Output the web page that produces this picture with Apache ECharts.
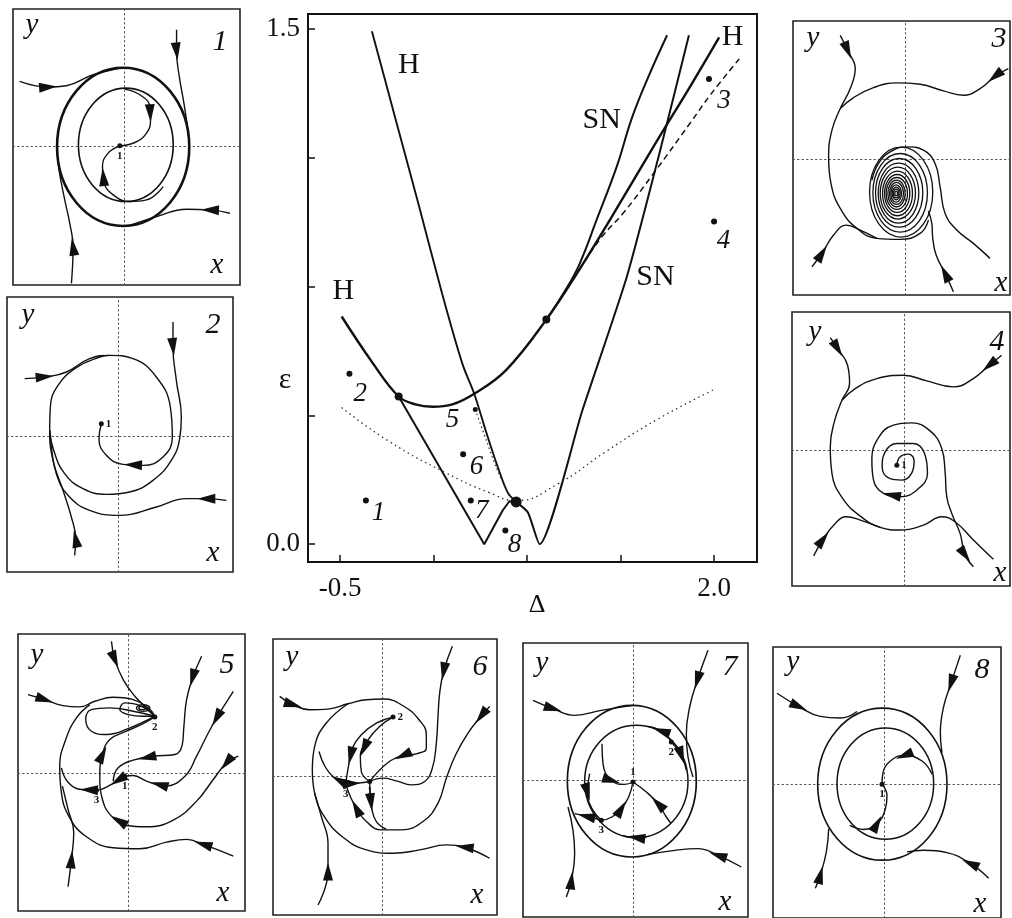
<!DOCTYPE html>
<html>
<head>
<meta charset="utf-8">
<script src="https://cdn.jsdelivr.net/npm/echarts@6/dist/echarts.min.js"></script>
<style>
html,body{margin:0;padding:0;background:#fff}
#chart{width:1012px;height:918px}
</style>
</head>
<body>
<div id="chart"></div>
<script>
// ---------- Bifurcation diagram in the (Δ, ε) plane ----------
const xTicks = [-0.5, 0.125, 0.75, 1.375, 2.0];
const xTickLabels = [-0.5, 2.0];
const yTicks = [0, 0.375, 0.75, 1.125, 1.5];
const yTickLabels = [0, 1.5];

// Hopf line (steep branch)
const hopfSteep = [[-0.287,1.494],[-0.130,1.240],[0.027,0.986],[0.184,0.727],[0.318,0.525],[0.397,0.438],[0.475,0.329],[0.554,0.225],[0.621,0.150],[0.677,0.123]];
// Hopf curve (parabolic branch)
const hopfParabola = [[-0.489,0.663],[-0.287,0.531],[-0.108,0.430],[0.004,0.407],[0.117,0.400],[0.251,0.407],[0.397,0.438],[0.610,0.507],[0.879,0.654],[1.103,0.802],[1.305,0.945],[1.619,1.175],[1.843,1.335],[2.034,1.476]];
// saddle-node lines
const snLeftV = [[-0.108,0.430],[0.464,0.0],[0.587,0.098],[0.632,0.125],[0.677,0.123]];
const snRightV = [[0.677,0.123],[0.756,0.092],[0.834,0.0],[1.12,0.39],[1.417,0.779],[1.63,1.13],[1.832,1.482]];
const snUpper = [[0.879,0.654],[1.00,0.735],[1.10,0.815],[1.22,0.95],[1.35,1.10],[1.45,1.24],[1.56,1.36],[1.686,1.482]];
// dashed and dotted branches
const dashedBranch = [[0.95,0.70],[1.10,0.80],[1.25,0.895],[1.395,0.965],[1.596,1.08],[1.843,1.228],[1.978,1.31],[2.168,1.413]];
const dottedParabola = [[-0.489,0.398],[-0.175,0.300],[0.206,0.208],[0.498,0.150],[0.677,0.127],[0.946,0.173],[1.282,0.271],[1.619,0.363],[2.0,0.450]];
const dottedShort = [[0.404,0.392],[0.475,0.306],[0.543,0.225],[0.632,0.144],[0.677,0.127]];
// codimension-two points
const specialPoints = [[-0.108,0.430],[0.879,0.654]];
const cuspPoint = [[0.677,0.123]];
const smallPoint = [[0.404,0.392]];
// parameter points of the phase portraits
const regionPoints = [[-0.327,0.127],[-0.437,0.496],[1.966,1.355],[2.0,0.940],[0.323,0.262],[0.374,0.127],[0.605,0.040]];
const regionLabels = [[-0.242,0.092,'1'],[-0.365,0.438,'2'],[2.067,1.292,'3'],[2.063,0.882,'4'],[0.251,0.363,'5'],[0.413,0.225,'6'],[0.448,0.096,'7'],[0.666,-0.003,'8']];
const curveNames = [[-0.040,1.396,'H'],[-0.478,0.738,'H'],[2.123,1.476,'H'],[1.249,1.234,'SN'],[1.608,0.779,'SN']];

// ---------- Phase portraits (x, y) ----------
// portrait 1
const panel1Cycles = [[-0.02,-0.01,1.98,2.37],[0.06,0.05,1.42,1.70]];
const panel1Curves = [
  [[0.03,1.72],[0.48,1.55],[0.78,1.20],[0.80,0.80],[0.68,0.40],[0.33,0.12],[-0.12,0.02]],
  [[1.18,-1.20],[0.68,-1.60],[0.18,-1.65],[-0.32,-1.45],[-0.60,-1.05],[-0.64,-0.60],[-0.47,-0.20],[-0.12,0.02]],
  [[-3.12,1.95],[-2.27,1.78],[-1.72,1.82],[-0.92,2.15],[-0.04,2.36]],
  [[1.58,3.50],[1.58,2.85],[1.66,2.10],[1.80,1.30],[1.93,0.40],[1.96,-0.05]],
  [[-1.57,-4.10],[-1.52,-3.00],[-1.62,-2.30],[-1.77,-1.60],[-1.94,-0.70],[-2.00,0.00]],
  [[3.18,-2.00],[2.58,-1.90],[1.88,-1.88],[0.98,-2.10],[0.08,-2.40]]
];
const panel1Arrows = [[0,2.5],[1,4.3],[2,1],[3,1],[4,1],[5,1]];
const panel1Points = [[-0.12,0.02,'1']];

// portrait 2
const panel2Curves = [
  [[-2.82,1.72],[-2.07,1.79],[-1.57,1.92],[-0.87,2.32],[-0.27,2.42],[0.43,2.32],[1.13,1.77],[1.55,0.87],[1.61,-0.03],[1.33,-0.63],[0.73,-0.88],[0.13,-0.85],[-0.37,-0.58],[-0.59,-0.08],[-0.52,0.37]],
  [[1.63,3.42],[1.63,2.67],[1.73,1.67],[1.88,0.57],[1.83,-0.08],[1.58,-0.73],[1.03,-1.33],[0.33,-1.68],[-0.37,-1.75],[-1.07,-1.58],[-1.62,-1.13],[-1.95,-0.43],[-2.07,0.17]],
  [[-1.32,-3.58],[-1.29,-3.08],[-1.42,-2.43],[-1.67,-1.63],[-1.97,-0.73],[-2.07,0.17],[-2.05,0.87],[-1.82,1.52],[-1.27,2.05],[-0.57,2.37],[-0.27,2.42]],
  [[3.23,-1.93],[2.63,-1.88],[2.03,-1.88],[1.13,-2.13],[0.03,-2.38],[-0.87,-2.23],[-1.52,-1.78],[-1.87,-1.13],[-2.02,-0.33],[-2.07,0.17]]
];
const panel2Arrows = [[0,0.8],[0,10.5],[1,1],[2,1],[3,1]];
const panel2Points = [[-0.52,0.37,'1']];

// portrait 3
const panel3Cycles = [[-0.12,-0.98,0.95,1.35],[-0.15,-1.00,0.82,1.18],[-0.18,-1.00,0.71,1.03],[-0.20,-1.01,0.61,0.90],[-0.22,-1.01,0.53,0.78],[-0.23,-1.02,0.45,0.67],[-0.24,-1.02,0.38,0.57],[-0.25,-1.02,0.32,0.48],[-0.26,-1.02,0.26,0.40],[-0.26,-1.02,0.21,0.33],[-0.27,-1.02,0.16,0.26],[-0.27,-1.02,0.12,0.19],[-0.27,-1.02,0.08,0.13],[-0.27,-1.02,0.04,0.07]];
const panel3Curves = [
  [[-1.95,3.73],[-1.73,3.28],[-1.50,2.73],[-1.65,2.13],[-1.95,1.53],[-2.20,0.88],[-2.30,0.08],[-2.23,-0.72],[-1.95,-1.47],[-1.45,-2.07],[-0.85,-2.37],[-0.15,-2.40],[0.45,-2.22],[0.70,-1.82]],
  [[3.10,2.73],[2.70,2.50],[2.25,2.13],[1.75,1.93],[1.15,2.06],[0.45,2.26],[-0.25,2.30],[-0.95,2.16],[-1.55,1.86],[-1.95,1.53]],
  [[-2.80,-3.22],[-2.50,-2.82],[-2.15,-2.27],[-1.77,-1.97],[-1.35,-2.12],[-0.85,-2.37]],
  [[1.45,-3.97],[1.20,-3.42],[0.93,-2.87],[0.83,-2.37],[0.80,-1.92],[0.70,-1.55]],
  [[2.55,-2.97],[2.05,-2.52],[1.55,-2.12],[1.20,-1.62],[1.05,-0.82],[0.90,-0.12],[0.55,0.28],[0.05,0.38],[-0.45,0.23],[-0.80,-0.12],[-1.00,-0.62]]
];
const panel3Arrows = [[0,1],[1,1],[2,1],[3,1]];
const panel3Points = [];

// portrait 4
const panel4Curves = [
  [[-0.22,-0.45],[-0.12,-0.20],[0.13,-0.12],[0.30,-0.32],[0.23,-0.68],[-0.07,-0.90],[-0.44,-0.85],[-0.66,-0.50],[-0.57,-0.05],[-0.22,0.20],[0.28,0.20],[0.63,-0.15],[0.70,-0.70],[0.40,-1.18],[-0.12,-1.40],[-0.62,-1.30],[-0.92,-0.90],[-0.97,-0.30],[-0.77,0.38],[-0.32,0.75],[0.23,0.82],[0.78,0.58],[1.13,0.05],[1.23,-0.65],[1.28,-1.40],[1.43,-1.90],[1.68,-2.50],[1.83,-3.15],[2.08,-3.50]],
  [[-2.22,3.38],[-2.00,3.05],[-1.70,2.55],[-1.64,2.00],[-1.87,1.50],[-2.10,0.85],[-2.22,0.10],[-2.17,-0.70],[-1.87,-1.42],[-1.32,-1.98],[-0.72,-2.32],[-0.12,-2.40],[0.58,-2.25],[1.13,-2.00],[1.53,-2.15],[2.08,-2.70],[2.68,-3.28]],
  [[2.93,2.85],[2.56,2.55],[2.08,2.15],[1.48,1.90],[0.68,2.08],[-0.02,2.25],[-0.82,2.15],[-1.47,1.85],[-1.87,1.50]],
  [[-2.72,-3.18],[-2.44,-2.68],[-2.07,-2.20],[-1.74,-2.00],[-1.32,-2.10],[-0.72,-2.32]]
];
const panel4Arrows = [[0,27],[0,14.5],[1,1],[2,1],[3,1]];
const panel4Points = [[-0.22,-0.45,'1']];

// portrait 5
const panel5Cycles = [[0.45,1.95,0.20,0.10],[0.42,1.95,0.10,0.05]];
const panel5Curves = [
  [[-0.50,3.95],[-0.40,3.40],[-0.15,2.80],[0.20,2.30],[0.55,1.95],[0.80,1.70]],
  [[-3.00,2.35],[-2.50,2.20],[-1.95,2.02],[-1.45,1.98],[-1.00,2.15],[-0.45,2.27],[0.15,2.20],[0.60,1.95],[0.80,1.70]],
  [[0.80,1.70],[0.35,2.02],[-0.10,2.10],[-0.25,1.90],[0.00,1.75],[0.45,1.70],[0.80,1.70]],
  [[0.80,1.70],[0.15,1.85],[-0.55,1.95],[-1.10,1.90],[-1.27,1.60],[-1.10,1.25],[-0.65,1.15],[0.05,1.35],[0.80,1.70]],
  [[3.15,-2.50],[2.25,-2.15],[1.75,-2.00],[1.15,-2.08],[0.35,-2.28],[-0.45,-2.25],[-1.25,-1.92],[-1.75,-1.35],[-2.00,-0.60],[-2.05,0.20],[-1.87,1.00],[-1.55,1.65],[-1.15,2.05]],
  [[2.20,3.50],[1.93,2.85],[1.75,2.20],[1.67,1.40],[1.61,0.80],[1.40,0.55],[0.75,0.50],[0.15,0.38],[-0.30,0.15],[-0.45,-0.25]],
  [[3.15,2.45],[2.65,1.65],[2.35,1.10],[2.05,0.50],[1.70,-0.10],[1.10,-0.40],[0.55,-0.25],[0.15,-0.08],[-0.10,-0.10]],
  [[3.30,0.50],[2.95,0.30],[2.55,-0.20],[2.05,-0.85],[1.35,-1.42],[0.55,-1.62],[-0.05,-1.58],[-0.50,-1.30],[-0.77,-0.80],[-0.85,-0.10],[-0.77,0.55],[-0.55,1.00],[-0.05,1.25],[0.45,1.48],[0.80,1.68]],
  [[-0.10,-0.10],[-0.50,-0.35],[-0.95,-0.52],[-1.40,-0.50],[-1.80,-0.28],[-2.00,0.15]],
  [[-1.80,-3.42],[-1.70,-2.60],[-1.63,-1.80],[-1.80,-1.10],[-1.97,-0.40]]
];
const panel5Arrows = [[0,1],[1,1],[4,1],[5,1],[5,6.3],[6,1],[6,5.3],[7,1],[7,6.5],[7,10],[8,0.5],[8,2.5],[9,1]];
const panel5Points = [[-0.10,-0.10,'1'],[0.80,1.68,'2'],[-0.95,-0.52,'3']];

// portrait 6
const panel6Curves = [
  [[-3.08,2.38],[-2.68,2.13],[-2.18,1.98],[-1.63,2.00],[-1.03,2.16],[-0.48,2.28],[0.04,2.30],[0.62,2.10],[1.10,1.68],[1.32,1.23],[1.32,0.83],[1.02,0.66],[0.62,0.61],[0.17,0.40],[-0.38,-0.17]],
  [[3.22,-2.47],[2.47,-2.14],[1.92,-2.07],[1.12,-2.22],[0.32,-2.32],[-0.48,-2.22],[-1.18,-1.84],[-1.73,-1.24],[-2.03,-0.52],[-2.10,0.18],[-2.03,0.88],[-1.70,1.56],[-1.03,2.16]],
  [[2.10,3.88],[1.84,3.13],[1.72,2.48],[1.67,1.78],[1.62,0.98],[1.50,0.23],[1.27,-0.17],[0.87,-0.27],[0.42,-0.15],[0.02,-0.07],[-0.38,-0.17]],
  [[3.22,2.08],[2.97,1.80],[2.57,1.28],[2.20,0.63],[1.92,-0.07],[1.67,-0.82],[1.22,-1.37],[0.57,-1.62],[-0.03,-1.62],[-0.48,-1.37],[-0.78,-0.97],[-0.96,-0.62],[-1.10,-0.24]],
  [[0.32,1.76],[-0.18,1.58],[-0.63,1.23],[-0.90,0.83],[-1.00,0.38],[-1.10,-0.24]],
  [[0.32,1.76],[-0.06,1.50],[-0.43,1.08],[-0.66,0.58],[-0.63,0.13],[-0.38,-0.17]],
  [[-1.10,-0.24],[-1.46,-0.04],[-1.72,0.28],[-1.90,0.73]],
  [[-1.10,-0.24],[-0.73,-0.22],[-0.38,-0.17]],
  [[-0.38,-0.17],[-0.36,-0.62],[-0.32,-0.97],[-0.18,-1.37],[0.12,-1.60]],
  [[-1.93,-3.87],[-1.63,-2.87],[-1.63,-2.02],[-1.83,-1.22],[-2.03,-0.52]]
];
const panel6Arrows = [[0,1],[0,12],[1,1],[2,1],[3,1],[3,10],[4,3.5],[5,2.5],[6,0.5],[7,0.5],[8,1.5],[9,1]];
const panel6Points = [[-0.38,-0.17,'1'],[0.32,1.76,'2'],[-1.10,-0.24,'3']];

// portrait 7
const panel7Cycles = [[-0.035,-0.025,1.935,2.275],[0.10,-0.035,1.55,1.685]];
const panel7Curves = [
  [[-3.00,2.40],[-2.40,2.15],[-1.75,1.95],[-0.95,2.10],[0.00,2.25]],
  [[2.25,3.90],[1.93,3.00],[1.70,2.20],[1.60,1.40],[1.65,0.70],[1.80,0.10]],
  [[-2.00,-3.50],[-1.85,-3.00],[-1.75,-2.20],[-1.80,-1.50],[-1.95,-0.80]],
  [[3.25,-2.60],[2.55,-2.25],[1.95,-2.05],[1.25,-2.10],[0.45,-2.22]],
  [[-0.93,1.10],[-0.90,0.50],[-0.65,0.00],[-0.25,-0.12],[0.00,-0.05]],
  [[1.13,-1.28],[1.00,-1.10],[0.75,-0.70],[0.40,-0.35],[0.00,-0.05]],
  [[-0.95,-1.20],[-0.63,-1.10],[-0.35,-0.85],[-0.13,-0.50],[0.00,-0.05]],
  [[-0.95,-1.20],[-1.40,-1.08],[-1.75,-1.00]],
  [[-1.30,0.20],[-1.37,-0.35],[-1.23,-0.85],[-0.95,-1.20]],
  [[1.15,1.15],[0.85,1.48],[0.45,1.62]],
  [[1.15,1.15],[1.45,0.75],[1.60,0.30]],
  [[0.40,-1.69],[0.10,-1.72],[-0.30,-1.66]]
];
const panel7Arrows = [[0,1],[1,1],[2,1],[3,1],[4,2],[5,2],[6,2],[7,1],[8,1],[9,1],[10,1],[11,1]];
const panel7Points = [[0.00,-0.05,'1'],[1.15,1.15,'2'],[-0.95,-1.20,'3']];

// portrait 8
const panel8Cycles = [[-0.06,0.00,1.94,2.30],[0.03,0.015,1.45,1.685]];
const panel8Curves = [
  [[1.43,0.30],[1.13,0.70],[0.60,0.87],[0.18,0.70],[-0.04,0.35],[-0.07,0.00]],
  [[-1.04,-1.25],[-0.62,-1.37],[-0.22,-1.20],[0.03,-0.75],[0.08,-0.35],[-0.07,0.00]],
  [[-3.22,2.75],[-2.57,2.35],[-1.92,2.05],[-1.32,2.00],[-0.82,2.20]],
  [[2.28,3.90],[2.00,3.05],[1.78,2.35],[1.68,1.55],[1.73,0.95]],
  [[-2.07,-3.15],[-1.92,-2.75],[-1.74,-2.05],[-1.67,-1.35]],
  [[3.13,-2.85],[2.58,-2.40],[1.88,-2.07],[1.18,-2.00],[0.68,-2.05]]
];
const panel8Arrows = [[0,2],[1,2],[2,1],[3,1],[4,1],[5,1]];
const panel8Points = [[-0.07,0.00,'1']];

// ---------- layout and drawing ----------
const FONT = "'Liberation Serif','Times New Roman',serif";
const INK = '#111';

const panels = [
  {num:'1', box:[13,9,227,276],   x:[-3.32,3.48], y:[-4.15,4.12], curves:panel1Curves, arrows:panel1Arrows, cycles:panel1Cycles, cycleW:[2.6,1.6], points:panel1Points, lp:['bottom'], t:{y:[19,16], n:[207,33], x:[204,256]}},
  {num:'2', box:[7,297,226,275],  x:[-3.35,3.43], y:[-4.08,4.17], curves:panel2Curves, arrows:panel2Arrows, cycles:[], cycleW:[], points:panel2Points, lp:['right'], t:{y:[21,18], n:[206,28], x:[206,256]}},
  {num:'3', box:[793,21,217,274], x:[-3.37,3.15], y:[-4.07,4.16], curves:panel3Curves, arrows:panel3Arrows, cycles:panel3Cycles, cycleW:null, points:panel3Points, lp:[], t:{y:[20,17], n:[206,18], x:[208,262]}},
  {num:'4', box:[792,312,218,274],x:[-3.37,3.18], y:[-4.08,4.15], curves:panel4Curves, arrows:panel4Arrows, cycles:[], cycleW:[], points:panel4Points, lp:['right'], t:{y:[23,20], n:[205,30], x:[208,261]}},
  {num:'5', box:[18,634,227,277], x:[-3.30,3.50], y:[-4.15,4.17], curves:panel5Curves, arrows:panel5Arrows, cycles:panel5Cycles, cycleW:[1.4,1.4], points:panel5Points, lp:['bottom','bottom','bottom'], t:{y:[19,21], n:[209,31], x:[205,259]}},
  {num:'6', box:[273,639,224,276],x:[-3.28,3.44], y:[-4.17,4.10], curves:panel6Curves, arrows:panel6Arrows, cycles:[], cycleW:[], points:panel6Points, lp:['bottom','right','bottom'], t:{y:[19,18], n:[207,28], x:[204,256]}},
  {num:'7', box:[523,643,225,274],x:[-3.30,3.45], y:[-4.10,4.12], curves:panel7Curves, arrows:panel7Arrows, cycles:panel7Cycles, cycleW:[1.7,1.5], points:panel7Points, lp:['top','bottom','bottom'], t:{y:[19,20], n:[207,24], x:[202,259]}},
  {num:'8', box:[773,647,228,273],x:[-3.34,3.50], y:[-4.05,4.15], curves:panel8Curves, arrows:panel8Arrows, cycles:panel8Cycles, cycleW:[1.6,1.5], points:panel8Points, lp:['bottom'], t:{y:[20,15], n:[209,23], x:[207,257]}}
];

const grid = [], xAxis = [], yAxis = [], series = [], graphic = [];

// main diagram axes
grid.push({left:308, top:14, width:449, height:548, show:true, borderColor:INK, borderWidth:2, backgroundColor:'transparent'});
xAxis.push({type:'value', gridIndex:0, min:-0.714, max:2.287,
  axisLine:{show:true, onZero:false, lineStyle:{color:INK, width:2}}, splitLine:{show:false},
  axisTick:{show:true, inside:true, length:7, customValues:xTicks, lineStyle:{color:INK, width:1.5}},
  axisLabel:{show:true, customValues:xTickLabels, formatter:v => Number(v).toFixed(1), margin:13, fontFamily:FONT, fontSize:27, color:INK}});
yAxis.push({type:'value', gridIndex:0, min:-0.052, max:1.544,
  axisLine:{show:true, onZero:false, lineStyle:{color:INK, width:2}}, splitLine:{show:false},
  axisTick:{show:true, inside:true, length:7, customValues:yTicks, lineStyle:{color:INK, width:1.5}},
  axisLabel:{show:true, customValues:yTickLabels, formatter:v => Number(v).toFixed(1), margin:8, fontFamily:FONT, fontSize:27, color:INK}});

function mainLine(data, width, type, smooth, color) {
  series.push({type:'line', xAxisIndex:0, yAxisIndex:0, data:data, smooth:smooth, symbol:'none', silent:true,
    lineStyle:{color:color || INK, width:width, type:type}, z:3});
}
mainLine(hopfSteep, 1.9, 'solid', 0.3);
mainLine(hopfParabola, 2.4, 'solid', 0.4);
mainLine(snLeftV, 2.0, 'solid', false);
mainLine(snRightV, 2.0, 'solid', 0.2);
mainLine(snUpper, 2.0, 'solid', 0.4);
mainLine(dashedBranch, 1.5, [6,4], 0.4);
mainLine(dottedParabola, 1.3, [1.5,3.5], 0.5, '#333');
mainLine(dottedShort, 1.3, [1.5,3], 0.3, '#333');

function dotSeries(data, size) {
  series.push({type:'scatter', xAxisIndex:0, yAxisIndex:0, data:data, symbol:'circle', symbolSize:size,
    itemStyle:{color:INK, opacity:1}, silent:true, z:4});
}
dotSeries(specialPoints, 8);
dotSeries(cuspPoint, 11);
dotSeries(smallPoint, 5);
dotSeries(regionPoints, 6);

function textSeries(rows, italic, size) {
  series.push({type:'scatter', xAxisIndex:0, yAxisIndex:0, silent:true, z:5,
    data:rows.map(d => ({name:d[2], value:[d[0], d[1]]})), symbolSize:1, itemStyle:{color:'rgba(0,0,0,0)', opacity:1},
    label:{show:true, position:'inside', formatter:'{b}', opacity:1, fontFamily:FONT, fontStyle:italic ? 'italic' : 'normal', fontSize:size, color:INK}});
}
textSeries(regionLabels, true, 27);
textSeries(curveNames, false, 30);

graphic.push({type:'text', x:285, y:380, style:{text:'ε', fontFamily:FONT, fontSize:30, fill:INK, align:'center', verticalAlign:'middle'}});
graphic.push({type:'text', x:537, y:605, style:{text:'Δ', fontFamily:FONT, fontSize:26, fill:INK, align:'center', verticalAlign:'middle'}});

// arrowheads placed along a trajectory, pointing in the direction of travel
function arrowItems(curves, arrows) {
  return arrows.map(([ci, t]) => {
    const pts = curves[ci];
    let i = Math.floor(t), f = t - i;
    if (i >= pts.length - 1) { i = pts.length - 2; f = 1; }
    const a = pts[i], b = pts[i + 1];
    const ang = Math.atan2(b[1] - a[1], b[0] - a[0]) * 180 / Math.PI;
    return {value:[a[0] + (b[0] - a[0]) * f, a[1] + (b[1] - a[1]) * f], symbolRotate:ang - 90};
  });
}

function ringSeries(rows, gi, width) {
  return {type:'custom', xAxisIndex:gi, yAxisIndex:gi, data:rows, clip:true, silent:true, encode:{x:0, y:1}, z:2,
    renderItem:(params, api) => {
      const c = api.coord([api.value(0), api.value(1)]);
      const s = api.size([api.value(2), api.value(3)]);
      return {type:'ellipse', shape:{cx:c[0], cy:c[1], rx:s[0], ry:s[1]},
        style:{fill:'none', stroke:INK, lineWidth:width}};
    }};
}

panels.forEach((p, k) => {
  const gi = k + 1;
  const [left, top, w, h] = p.box;
  grid.push({left:left, top:top, width:w, height:h, show:true, borderColor:'#222', borderWidth:1.6, backgroundColor:'transparent'});
  const hidden = {axisTick:{show:false}, axisLabel:{show:false}, splitLine:{show:false},
    axisLine:{show:true, onZero:true, lineStyle:{color:'#555', width:1, type:[1.5,3]}}};
  xAxis.push(Object.assign({type:'value', gridIndex:gi, min:p.x[0], max:p.x[1]}, hidden));
  yAxis.push(Object.assign({type:'value', gridIndex:gi, min:p.y[0], max:p.y[1]}, hidden));

  p.curves.forEach(c => {
    series.push({type:'line', xAxisIndex:gi, yAxisIndex:gi, data:c, smooth:0.45, symbol:'none', silent:true, clip:true,
      lineStyle:{color:INK, width:1.4}, z:2});
  });
  if (p.cycles.length) {
    if (p.cycleW) {
      p.cycles.forEach((r, j) => series.push(ringSeries([r], gi, p.cycleW[j])));
    } else {
      series.push(ringSeries(p.cycles, gi, 1.3));
    }
  }
  series.push({type:'scatter', xAxisIndex:gi, yAxisIndex:gi, data:arrowItems(p.curves, p.arrows), symbol:'triangle',
    symbolSize:[10,18], itemStyle:{color:INK, opacity:1}, silent:true, z:4});
  if (p.points.length) {
    series.push({type:'scatter', xAxisIndex:gi, yAxisIndex:gi, silent:true, z:4,
      data:p.points.map((d, j) => ({name:d[2], value:[d[0], d[1]], label:{position:p.lp[j] || 'bottom'}})),
      symbol:'circle', symbolSize:5, itemStyle:{color:INK, opacity:1},
      label:{show:true, formatter:'{b}', distance:2, opacity:1, fontFamily:FONT, fontWeight:'bold', fontSize:11, color:INK}});
  }

  const txt = (s, pos, size) => graphic.push({type:'text', x:left + pos[0], y:top + pos[1],
    style:{text:s, fontFamily:FONT, fontStyle:'italic', fontSize:size, fill:INK, align:'center', verticalAlign:'middle'}});
  txt('y', p.t.y, 29);
  txt(p.num, p.t.n, 30);
  txt('x', p.t.x, 29);
});

const chart = echarts.init(document.getElementById('chart'));
chart.setOption({animation:false, backgroundColor:'#fff', grid:grid, xAxis:xAxis, yAxis:yAxis, series:series, graphic:graphic});
</script>
</body>
</html>
